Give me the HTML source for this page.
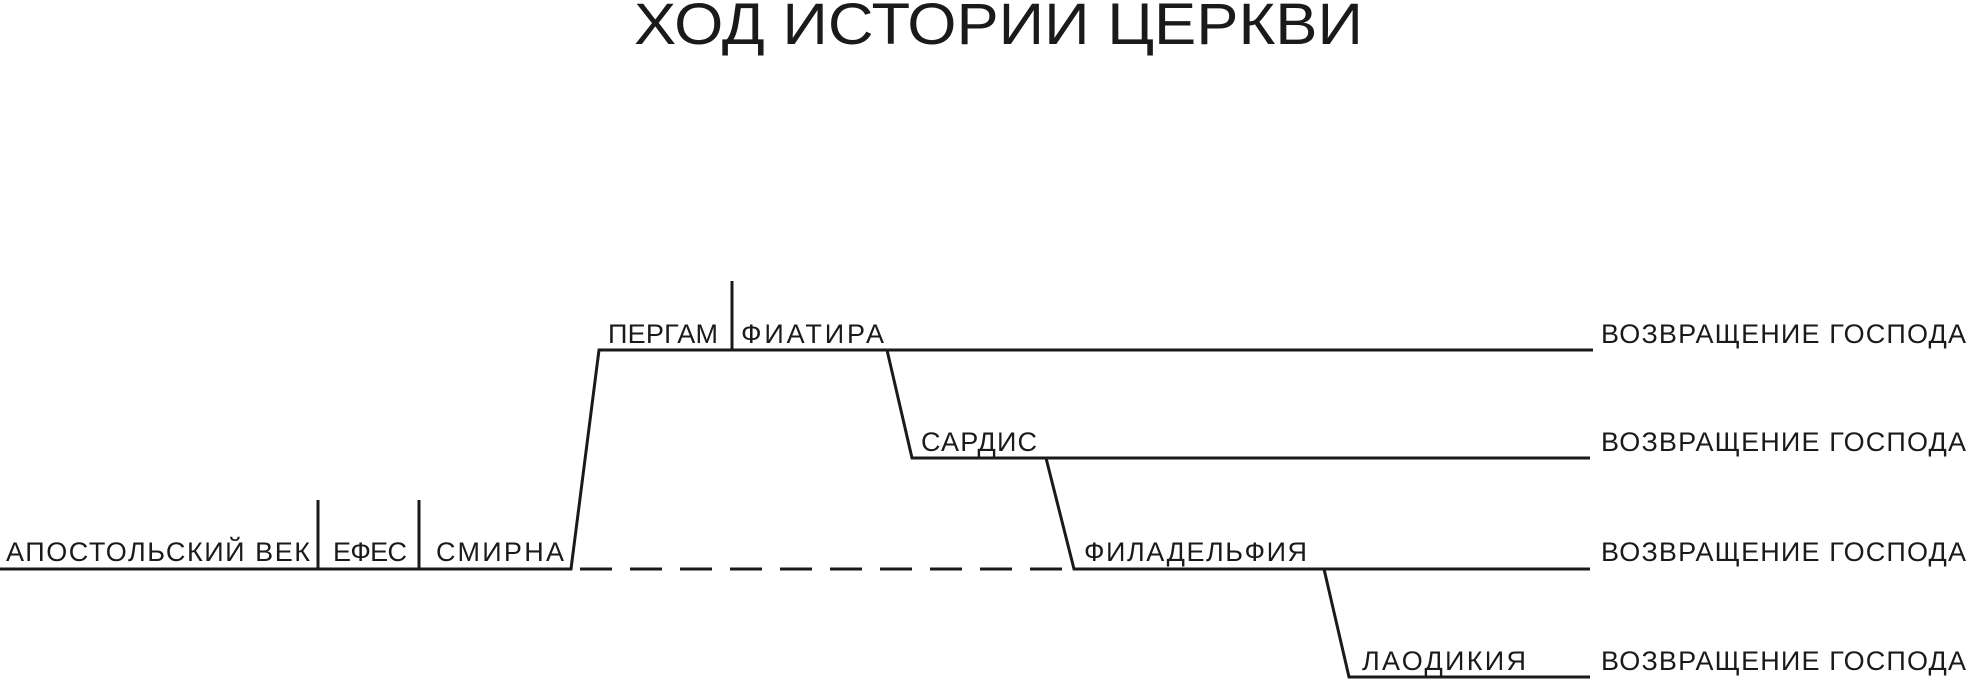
<!DOCTYPE html>
<html><head><meta charset="utf-8"><style>
html,body{margin:0;padding:0;background:#fff;width:1970px;height:680px;overflow:hidden}
svg text{font-family:"Liberation Sans",sans-serif;fill:#1a1a1a}
</style></head><body>
<svg width="1970" height="680" viewBox="0 0 1970 680" xmlns="http://www.w3.org/2000/svg">
<text x="634" y="44" font-size="58" textLength="729" lengthAdjust="spacingAndGlyphs">ХОД ИСТОРИИ ЦЕРКВИ</text>
<g stroke="#1a1a1a" stroke-width="3" fill="none">
<polyline points="0,569 571,569 599,350 1593,350"/>
<line x1="318" y1="500" x2="318" y2="569"/>
<line x1="419" y1="500" x2="419" y2="569"/>
<line x1="732" y1="281" x2="732" y2="350"/>
<polyline points="887,350 912,458 1590,458"/>
<polyline points="1046,458 1074,569 1590,569"/>
<polyline points="1324,569 1349,677 1590,677"/>
<line x1="580" y1="569" x2="1063" y2="569" stroke-dasharray="32,18"/>
</g>
<g font-size="27" lengthAdjust="spacingAndGlyphs">
<text x="6" y="561" textLength="304">АПОСТОЛЬСКИЙ ВЕК</text>
<text x="333" y="561" textLength="74">ЕФЕС</text>
<text x="436" y="561" textLength="128">СМИРНА</text>
<text x="608" y="343" textLength="110">ПЕРГАМ</text>
<text x="741" y="343" textLength="143">ФИАТИРА</text>
<text x="921" y="451" textLength="116">САРДИС</text>
<text x="1084" y="561" textLength="223">ФИЛАДЕЛЬФИЯ</text>
<text x="1362" y="670" textLength="164">ЛАОДИКИЯ</text>
<text x="1601" y="343" textLength="365">ВОЗВРАЩЕНИЕ ГОСПОДА</text>
<text x="1601" y="451" textLength="365">ВОЗВРАЩЕНИЕ ГОСПОДА</text>
<text x="1601" y="561" textLength="365">ВОЗВРАЩЕНИЕ ГОСПОДА</text>
<text x="1601" y="670" textLength="365">ВОЗВРАЩЕНИЕ ГОСПОДА</text>
</g>
</svg>
</body></html>
